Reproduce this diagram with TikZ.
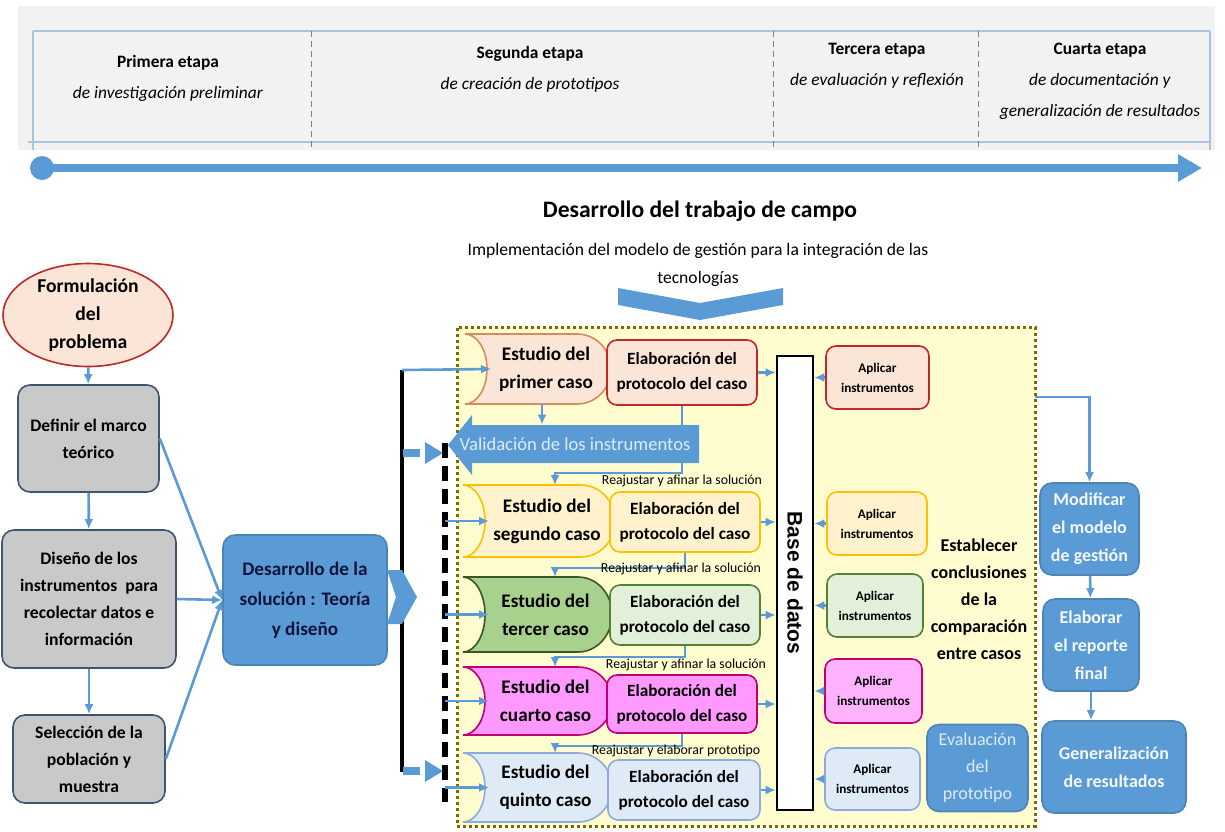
\documentclass[tikz,border=0pt]{standalone}
\usepackage{fontspec}
\setmainfont{Carlito}
\newfontfamily\basefont{Liberation Sans}
\usetikzlibrary{arrows.meta, calc, shapes.geometric, positioning}
\tikzset{>=latex}
\definecolor{azul}{RGB}{91,155,213}
\definecolor{fondo}{RGB}{242,242,242}
\definecolor{tabla}{RGB}{170,196,222}
\definecolor{gris}{RGB}{201,201,201}
\definecolor{pizarra}{RGB}{65,84,110}
\definecolor{durazno}{RGB}{251,229,214}
\definecolor{rojo}{RGB}{192,40,40}
\definecolor{naranja}{RGB}{214,140,90}
\definecolor{crema}{RGB}{255,242,204}
\definecolor{oro}{RGB}{255,192,0}
\definecolor{verde}{RGB}{169,209,142}
\definecolor{verdeosc}{RGB}{56,87,35}
\definecolor{verdecl}{RGB}{226,240,217}
\definecolor{verdemed}{RGB}{84,130,53}
\definecolor{rosa}{RGB}{255,153,255}
\definecolor{rosacl}{RGB}{255,179,255}
\definecolor{magenta}{RGB}{192,0,112}
\definecolor{celeste}{RGB}{222,235,247}
\definecolor{celesteb}{RGB}{143,170,220}
\definecolor{amarillo}{RGB}{255,253,208}
\definecolor{oliva}{RGB}{127,106,0}
\definecolor{marino}{RGB}{20,20,60}
\newcommand{\fs}[2]{\fontsize{#1}{#2}\selectfont}
% forma de los estudios de caso
\newcommand{\estudio}[8]{%
  \pgfmathsetmacro{\ym}{(#3+#5)/2}
  \pgfmathsetmacro{\hk}{0.552*(#5-#3)/2}
  \pgfmathsetmacro{\xa}{#4-34}
  \filldraw[fill=#6, draw=#7, thick] (#2,#3) -- (\xa,#3)
    .. controls ({\xa+19},#3) and (#4,{\ym-\hk}) .. (#4,\ym)
    .. controls (#4,{\ym+\hk}) and ({\xa+19},#5) .. (\xa,#5)
    -- (#2,#5)
    .. controls ({#2+12},#5) and ({#2+22},{\ym+\hk}) .. ({#2+22},\ym)
    .. controls ({#2+22},{\ym-\hk}) and ({#2+12},#3) .. cycle;
  \node[estudiotxt] (#1) at ({(#2+#4)/2+8},\ym) {#8};
  \coordinate (#1-in) at ({#2+26},\ym);
  \coordinate (#1-top) at ({#2+92},#3);
  \coordinate (#1-bot) at ({#2+77},#5);
}
\tikzset{
  sz/.style 2 args={minimum width=#1*0.5pt, minimum height=#2*0.5pt},
  etapa/.style={align=center, font=\fs{8.7}{15.5}},
  caja/.style={rounded corners=6pt, thick, align=center, inner sep=1pt},
  grisbox/.style={caja, fill=gris, draw=pizarra, font=\bfseries\fs{8.8}{13.5}},
  azulbox/.style={caja, fill=azul, draw=azul!85!black, text=white!93!azul, font=\bfseries\fs{9}{14}},
  elab/.style={caja, rounded corners=5pt, font=\bfseries\fs{8.6}{12.5}},
  aplicar/.style={caja, rounded corners=5pt, font=\bfseries\fs{6.6}{10}},
  estudiotxt/.style={align=center, inner sep=0pt, font=\bfseries\fs{9.6}{14}},
  reaj/.style={font=\fs{6.9}{7}, inner sep=0pt},
  flecha/.style={azul, line width=1.3pt, -{Latex[length=5pt,width=4.5pt]}},
  linea/.style={azul, line width=1.3pt}
}
\begin{document}
\begin{tikzpicture}[x=0.5pt, y=-0.5pt]
\useasboundingbox (0,0) rectangle (1225,831);

% etapas
\fill[fondo] (18,6) rectangle (1215,150);
\draw[tabla, thick] (33,31) -- (1210,31);
\draw[tabla, thick] (28,142) -- (1210,142);
\draw[tabla, thick] (33,31) -- (33,150);
\draw[tabla, thick] (1210,31) -- (1210,150);
\foreach \x in {311,773,978}
  \draw[gray, densely dashed] (\x,31) -- (\x,150);
\node[etapa] (et1) at (168,78) {\textbf{Primera etapa}\\\textit{de investigación preliminar}};
\node[etapa] (et2) at (530,69.5) {\textbf{Segunda etapa}\\\textit{de creación de prototipos}};
\node[etapa] (et3) at (877,66) {\textbf{Tercera etapa}\\\textit{de evaluación y reflexión}};
\node[etapa] (et4) at (1100,81.5) {\textbf{Cuarta etapa}\\\textit{de documentación y}\\\textit{generalización de resultados}};
\fill[azul] (42,168) circle (12);
\draw[azul, line width=4pt, -{Triangle[length=12pt,width=13pt]}] (42,168) -- (1202,168);

\node[font=\bfseries\fs{11.8}{14}] (titulo) at (700,211) {Desarrollo del trabajo de campo};
\node[align=center, font=\fs{8.8}{14}] (impl) at (698,265) {Implementación del modelo de gestión para la integración de las\\tecnologías};
\fill[azul] (618,288) -- (700,303) -- (783,288) -- (783,305) -- (700,320) -- (618,305) -- cycle;

% columna izquierda
\node[ellipse, sz={170}{98}, inner sep=0pt, fill=durazno, draw=rojo, thick, align=center, font=\bfseries\fs{9.8}{14}] (form) at (88,315) {Formulación\\del\\problema};
\node[grisbox, sz={141}{107}] (marco) at (88.5,438.5) {Definir el marco\\teórico};
\node[grisbox, sz={174}{138}] (disenio) at (89,599) {Diseño de los\\instrumentos~~para\\recolectar datos e\\información};
\node[grisbox, sz={152}{88}] (selec) at (89,759) {Selección de la\\población y\\muestra};
\node[azulbox, text=marino, sz={164}{130}, font=\bfseries\fs{9.6}{15}] (dev) at (305,600) {Desarrollo de la\\solución : Teoría\\y diseño};
\draw[flecha] (form) -- (marco);
\draw[flecha] (marco) -- (disenio);
\draw[flecha] (disenio) -- (selec);
\draw[flecha] (marco.east) -- (dev.west);
\draw[flecha] (disenio.east) -- (dev.west);
\draw[flecha] (selec.east) -- (dev.west);

% trabajo de campo
\node[draw=oliva, fill=amarillo, line width=1.5pt, dash pattern=on 1.5pt off 1.5pt, sz={578}{499}] (campo) at (746,576.5) {};
\coordinate (stop) at (402,370);
\coordinate (sbot) at (402,772);
\coordinate (dtop) at (445,443);
\coordinate (dbot) at (445,802);
\draw[line width=2pt] (stop) -- (sbot);
\fill[azul] (387,570) -- (402,570) -- (417,597) -- (402,624) -- (387,624) -- (396,597) -- cycle;
\draw[line width=3pt, dash pattern=on 7.5pt off 4pt] (dtop) -- (dbot);
\foreach \y in {453,771}{
  \draw[azul, line width=4pt] (403,\y) -- (420,\y);
  \fill[azul] (425,{\y-11}) -- (443,\y) -- (425,{\y+11}) -- cycle;
}

\estudio{e1}{465}{334}{611}{404}{durazno}{naranja}{Estudio del\\primer caso}
\estudio{e2}{463}{485}{615}{557}{crema}{oro}{Estudio del\\segundo caso}
\estudio{e3}{463}{577}{612}{652}{verde}{verdeosc}{Estudio del\\tercer caso}
\estudio{e4}{463}{667}{612}{735}{rosa}{magenta}{Estudio del\\cuarto caso}
\estudio{e5}{463}{753}{612}{822}{celeste}{celesteb}{Estudio del\\quinto caso}

\node[elab, fill=durazno, draw=rojo, sz={150}{65}] (el1) at (682,372.5) {Elaboración del\\protocolo del caso};
\node[elab, fill=crema, draw=oro, sz={150}{60}] (el2) at (685,522) {Elaboración del\\protocolo del caso};
\node[elab, fill=verdecl, draw=verdemed, sz={150}{60}] (el3) at (685,615) {Elaboración del\\protocolo del caso};
\node[elab, fill=rosa, draw=magenta, sz={150}{58}] (el4) at (682,704) {Elaboración del\\protocolo del caso};
\node[elab, fill=celeste, draw=celesteb, sz={152}{60}] (el5) at (684,790) {Elaboración del\\protocolo del caso};

\draw[flecha] (stop) -- (e1-in);
\foreach \e in {e2,e3,e4,e5}
  \draw[flecha] (\e-in -| dtop) -- (\e-in);

% reajustes
\draw[flecha] (el1.south) -- ++(0,67) -| (e2-top);
\draw[flecha] (el2.south) -- ++(0,15) -| (e3-top);
\draw[flecha] (el3.south) -- ++(0,11) -| (e4-top);
\draw[flecha] (el4.south) -- ++(0,12) -| (e5-top);
\node[reaj] (r1) at (682,481) {Reajustar y afinar la solución};
\node[reaj] (r2) at (681,569) {Reajustar y afinar la solución};
\node[reaj] (r3) at (686,665) {Reajustar y afinar la solución};
\node[reaj] (r4) at (676,751) {Reajustar y elaborar prototipo};

\fill[azul] (448,445) -- (472,415) -- (472,425) -- (699,425) -- (699,463) -- (472,463) -- (472,475) -- cycle;
\node[sz={227}{38}, inner sep=0pt, text=celeste, font=\fs{9.3}{10}] (val) at (575,444) {Validación de los instrumentos};
\draw[flecha] (e1-bot) -- (e1-bot |- val.north);

\node[draw, fill=white, line width=1.3pt, sz={36}{454}] (base) at (795,583) {};
\node[rotate=-90, font=\basefont\bfseries\fs{10.5}{12}] (basetxt) at (base.center) {Base de datos};

\node[aplicar, fill=durazno, draw=rojo, sz={103}{63}] (ap1) at (877.5,377.5) {Aplicar\\instrumentos};
\node[aplicar, fill=crema, draw=oro, sz={100}{63}] (ap2) at (877,523.5) {Aplicar\\instrumentos};
\node[aplicar, fill=verdecl, draw=verdemed, sz={96}{63}] (ap3) at (875,605.5) {Aplicar\\instrumentos};
\node[aplicar, fill=rosacl, draw=magenta, sz={97}{64}] (ap4) at (873.5,691) {Aplicar\\instrumentos};
\node[aplicar, fill=celeste, draw=celesteb, sz={95}{62}] (ap5) at (872.5,779) {Aplicar\\instrumentos};

\foreach \i in {1,...,5}{
  \draw[flecha] (el\i.east) -- (el\i.east -| base.west);
  \draw[flecha] (ap\i.west) -- (ap\i.west -| base.east);
}

\node[align=center, font=\bfseries\fs{9}{13.5}] (concl) at (979,599) {Establecer\\conclusiones\\de la\\comparación\\entre casos};
\node[azulbox, text=celeste, font=\fs{9}{13.5}, sz={101}{87}] (eval) at (977.5,768) {Evaluación\\del\\prototipo};

% cuarta etapa
\coordinate (ysal) at (1035,397);
\node[azulbox, sz={99}{92}] (mod) at (1089.5,529) {Modificar\\el modelo\\de gestión};
\node[azulbox, sz={96}{92}] (rep) at (1091,645) {Elaborar\\el reporte\\final};
\node[azulbox, sz={144}{92}] (gen) at (1114,767) {Generalización\\de resultados};
\draw[flecha] (ysal) -| (mod.north);
\draw[flecha] (mod) -- (rep);
\draw[flecha] (rep.south) -- (rep.south |- gen.north);
\end{tikzpicture}
\end{document}
